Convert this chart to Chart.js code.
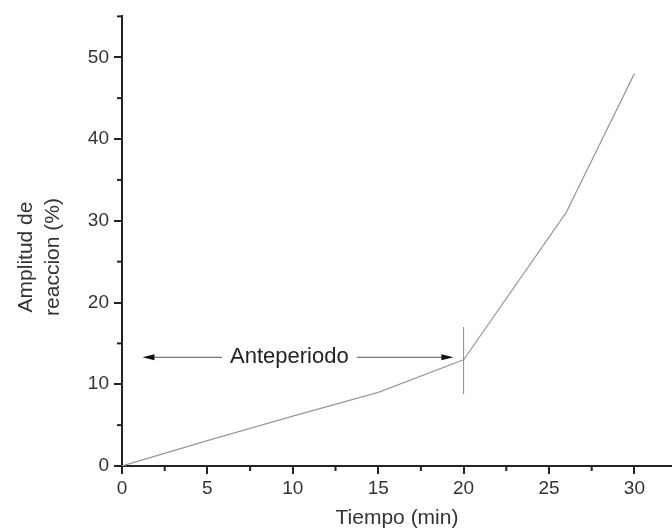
<!DOCTYPE html>
<html>
<head>
<meta charset="utf-8">
<script src="https://cdn.jsdelivr.net/npm/chart.js@4"></script>
<style>
  html, body { margin: 0; padding: 0; background: #fff; }
  #wrap { width: 672px; height: 531px; }
</style>
</head>
<body>
<div id="wrap"><canvas id="amplitudChart"></canvas></div>
<script>
// datos
const tiempo = [0, 5, 10, 15, 20, 26, 30];
const amplitud = [0, 3.1, 6.1, 9, 13, 31, 48];
const xTicks = [0, 5, 10, 15, 20, 25, 30];
const yTicks = [0, 10, 20, 30, 40, 50];
const xMinor = [2.5, 7.5, 12.5, 17.5, 22.5, 27.5, 32.5];
const yMinor = [5, 15, 25, 35, 45, 55];
const yTitulo = ['Amplitud de', 'reaccion (%)'];

// anotacion "Anteperiodo"
const anteLabel = 'Anteperiodo';
const anteY = 13.3;
const anteFrom = 1.2;
const anteTo = 19.4;
const anteText = 9.8;
const marcaX = 20;
const marcaY = [8.8, 17];

const axisColor = '#222';
const textColor = '#333';
const fontFam = '"Liberation Sans", Arial, sans-serif';

const annotPlugin = {
  id: 'annot',
  afterDraw(chart) {
    const { ctx, scales: { x, y } } = chart;
    ctx.save();
    // ticks menores
    ctx.strokeStyle = axisColor;
    ctx.lineWidth = 2;
    xMinor.forEach(v => {
      if (v > x.max) return;
      const px = x.getPixelForValue(v);
      ctx.beginPath();
      ctx.moveTo(px, y.bottom);
      ctx.lineTo(px, y.bottom + 5);
      ctx.stroke();
    });
    yMinor.forEach(v => {
      const py = y.getPixelForValue(v);
      ctx.beginPath();
      ctx.moveTo(x.left, py);
      ctx.lineTo(x.left - 5, py);
      ctx.stroke();
    });

    // titulo eje y (dos lineas)
    ctx.save();
    ctx.translate(0, 257);
    ctx.rotate(-Math.PI / 2);
    ctx.font = '21px ' + fontFam;
    ctx.fillStyle = textColor;
    ctx.textAlign = 'center';
    ctx.textBaseline = 'middle';
    ctx.fillText(yTitulo[0], 0, 26);
    ctx.fillText(yTitulo[1], 0, 53);
    ctx.restore();

    // linea vertical en t = 20
    ctx.strokeStyle = '#888';
    ctx.lineWidth = 1;
    const mx = x.getPixelForValue(marcaX);
    ctx.beginPath();
    ctx.moveTo(mx, y.getPixelForValue(marcaY[0]));
    ctx.lineTo(mx, y.getPixelForValue(marcaY[1]));
    ctx.stroke();

    // flechas
    const ay = y.getPixelForValue(anteY);
    const x1 = x.getPixelForValue(anteFrom);
    const x2 = x.getPixelForValue(anteTo);
    const tx = x.getPixelForValue(anteText);
    ctx.font = '22px ' + fontFam;
    const tw = ctx.measureText(anteLabel).width;
    ctx.strokeStyle = '#555';
    ctx.beginPath();
    ctx.moveTo(x1 + 10, ay);
    ctx.lineTo(tx - tw / 2 - 8, ay);
    ctx.moveTo(tx + tw / 2 + 8, ay);
    ctx.lineTo(x2 - 10, ay);
    ctx.stroke();
    ctx.fillStyle = '#111';
    ctx.beginPath();
    ctx.moveTo(x1, ay);
    ctx.lineTo(x1 + 12, ay - 3);
    ctx.lineTo(x1 + 12, ay + 3);
    ctx.closePath();
    ctx.fill();
    ctx.beginPath();
    ctx.moveTo(x2, ay);
    ctx.lineTo(x2 - 12, ay - 3);
    ctx.lineTo(x2 - 12, ay + 3);
    ctx.closePath();
    ctx.fill();

    ctx.fillStyle = '#222';
    ctx.textAlign = 'center';
    ctx.textBaseline = 'middle';
    ctx.fillText(anteLabel, tx, ay);
    ctx.restore();
  }
};

new Chart(document.getElementById('amplitudChart'), {
  type: 'scatter',
  data: {
    datasets: [{
      data: tiempo.map((t, i) => ({ x: t, y: amplitud[i] })),
      showLine: true,
      borderColor: '#999',
      borderWidth: 1.2,
      pointRadius: 0,
      tension: 0
    }]
  },
  options: {
    responsive: true,
    maintainAspectRatio: false,
    animation: false,
    layout: { padding: { top: 16, left: 0, right: 0, bottom: 0 } },
    plugins: { legend: { display: false }, tooltip: { enabled: false } },
    scales: {
      x: {
        type: 'linear',
        min: 0,
        max: 32.2,
        afterBuildTicks: s => { s.ticks = xTicks.map(v => ({ value: v })); },
        afterFit: s => { s.height = 65; },
        border: { display: true, color: axisColor, width: 2 },
        grid: { drawOnChartArea: false, color: axisColor, tickLength: 8, lineWidth: 2 },
        ticks: { color: textColor, padding: 3, maxRotation: 0, font: { size: 19, family: fontFam } },
        title: {
          display: true,
          text: 'Tiempo (min)',
          color: textColor,
          padding: { top: 0, bottom: 0 },
          font: { size: 21, family: fontFam }
        }
      },
      y: {
        min: 0,
        max: 55,
        afterBuildTicks: s => { s.ticks = yTicks.map(v => ({ value: v })); },
        afterFit: s => { s.width = 122; },
        border: { display: true, color: axisColor, width: 2 },
        grid: { drawOnChartArea: false, color: axisColor, tickLength: 8, lineWidth: 2 },
        ticks: { color: textColor, padding: 5, font: { size: 19, family: fontFam } },
        title: { display: false }
      }
    }
  },
  plugins: [annotPlugin]
});
</script>
</body>
</html>
